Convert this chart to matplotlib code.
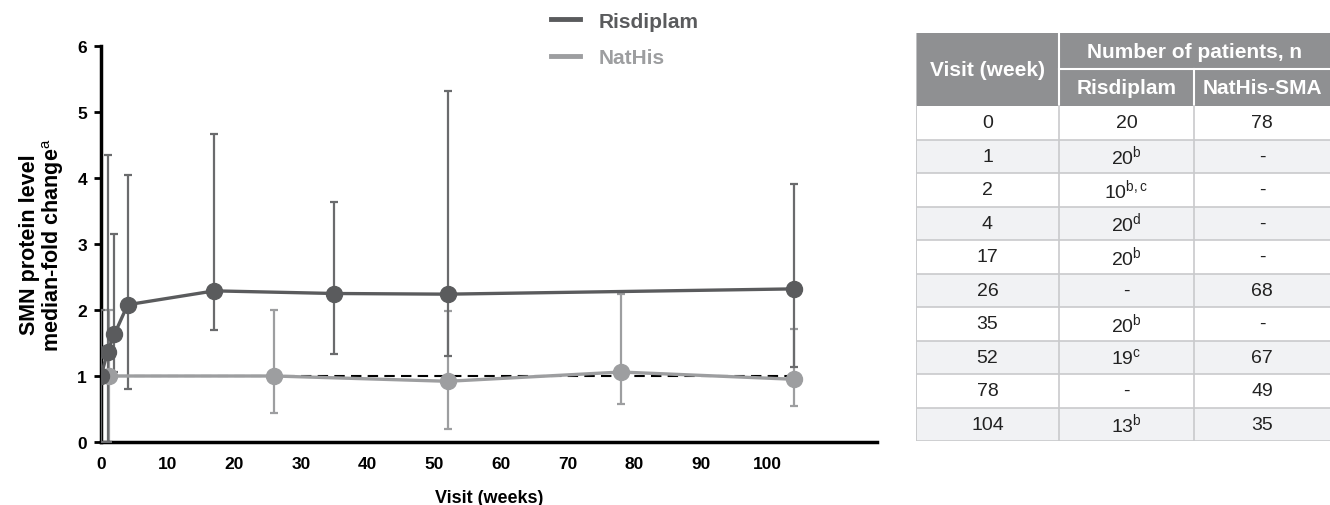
import numpy as np
import matplotlib
matplotlib.use('Agg')
import matplotlib.pyplot as plt
from matplotlib.patches import Rectangle
from matplotlib.lines import Line2D

plt.rcParams['font.family'] = ['Liberation Sans', 'DejaVu Sans']
plt.rcParams['mathtext.fontset'] = 'custom'
plt.rcParams['mathtext.rm'] = 'Liberation Sans'
plt.rcParams['mathtext.bf'] = 'Liberation Sans:bold'

# colors
dark_grey = '#5a5b5d'
light_grey = '#9d9ea0'
header_grey = '#8f9092'
stripe = '#f1f2f4'
grid_grey = '#c9cacc'

# Risdiplam: median fold change with range
ris_weeks = [0, 1, 2, 4, 17, 35, 52, 104]
ris_median = [1.0, 1.37, 1.63, 2.08, 2.29, 2.25, 2.24, 2.32]
ris_low = [0.0, 0.0, 1.06, 0.80, 1.70, 1.33, 1.30, 1.13]
ris_high = [2.0, 4.35, 3.15, 4.05, 4.66, 3.64, 5.32, 3.91]

# NatHis (baseline drawn a little to the right of week 0)
nat_weeks = [0, 26, 52, 78, 104]
nat_median = [1.0, 1.0, 0.92, 1.06, 0.95]
nat_low = [0.0, 0.44, 0.20, 0.57, 0.55]
nat_high = [2.0, 2.0, 1.98, 2.24, 1.71]
nat_baseline_shift = 1.2

# table
table_weeks = ['0', '1', '2', '4', '17', '26', '35', '52', '78', '104']
table_ris = ['20', '20$^{\\rm b}$', '10$^{\\rm b,c}$', '20$^{\\rm d}$', '20$^{\\rm b}$', '-',
             '20$^{\\rm b}$', '19$^{\\rm c}$', '-', '13$^{\\rm b}$']
table_nat = ['78', '-', '-', '-', '-', '68', '-', '67', '49', '35']

fig = plt.figure(figsize=(13.3, 5.06), dpi=100)
ax = fig.add_axes([101 / 1330, 1 - 443 / 506, (877 - 101) / 1330, (443 - 47) / 506])

# reference line at 1
ax.plot([0, 104], [1, 1], ls=(0, (5, 3)), color='black', lw=1.5, zorder=1)

nat_x = np.array(nat_weeks, dtype=float)
nat_x[nat_x == 0] += nat_baseline_shift
nat_m = np.array(nat_median)
ax.errorbar(nat_x, nat_m, yerr=[nat_m - np.array(nat_low), np.array(nat_high) - nat_m],
            fmt='none', ecolor=light_grey, elinewidth=1.6, capsize=3, capthick=1.6, zorder=2)
ris_m = np.array(ris_median)
ax.errorbar(ris_weeks, ris_m, yerr=[ris_m - np.array(ris_low), np.array(ris_high) - ris_m],
            fmt='none', ecolor='#6a6b6d', elinewidth=1.6, capsize=3, capthick=1.6, zorder=3)
ax.plot(nat_x, nat_m, '-o', color=light_grey, lw=2.4, ms=11.5, zorder=4)
ax.plot(ris_weeks, ris_m, '-o', color=dark_grey, lw=2.4, ms=11.5, zorder=5)

ax.set_xlim(0, 116.4)
ax.set_ylim(0, 6)
ax.set_xticks(range(0, 101, 10))
ax.set_yticks(range(0, 7))
for s in ['top', 'right']:
    ax.spines[s].set_visible(False)
for s in ['left', 'bottom']:
    ax.spines[s].set_linewidth(2.5)
ax.tick_params(axis='y', length=5, width=2, direction='out', labelsize=12.5, pad=5)
ax.tick_params(axis='x', length=0, labelsize=12.5, pad=10)
for lab in ax.get_xticklabels() + ax.get_yticklabels():
    lab.set_fontweight('bold')
ax.set_xlabel('Visit (weeks)', fontsize=13, fontweight='bold', labelpad=13)
ax.set_ylabel('SMN protein level\nmedian-fold change$^{\\rm a}$', fontsize=15.5,
              fontweight='bold', labelpad=8, linespacing=1.0)

handles = [Line2D([], [], color=dark_grey, lw=3.5), Line2D([], [], color=light_grey, lw=3.5)]
leg = fig.legend(handles, ['Risdiplam', 'NatHis'], loc='upper left',
                 bbox_to_anchor=(538 / 1330, 1.0), frameon=False, handlelength=1.4,
                 labelspacing=0.85, handletextpad=0.9, borderaxespad=0.2,
                 prop={'weight': 'bold', 'size': 15})
for txt, c in zip(leg.get_texts(), [dark_grey, light_grey]):
    txt.set_color(c)

# table drawn in pixel coordinates
tx = fig.add_axes([916 / 1330, 1 - 442 / 506, (1330 - 916) / 1330, (442 - 34) / 506])
tx.set_xlim(916, 1330)
tx.set_ylim(442, 34)
tx.axis('off')
col_edges = [916, 1059, 1194, 1330]
head_top, head_mid, head_bot = 34, 70, 107
row_h = (442 - head_bot) / len(table_weeks)

tx.add_patch(Rectangle((916, head_top), 1330 - 916, head_bot - head_top, color=header_grey, lw=0))
tx.plot([col_edges[1], col_edges[1]], [head_top, head_bot], color='white', lw=1.5)
tx.plot([col_edges[1], 1330], [head_mid, head_mid], color='white', lw=1.5)
tx.plot([col_edges[2], col_edges[2]], [head_mid, head_bot], color='white', lw=1.5)
hkw = dict(color='white', fontweight='bold', fontsize=15, ha='center', va='center')
tx.text((col_edges[0] + col_edges[1]) / 2, (head_top + head_bot) / 2, 'Visit (week)', **hkw)
tx.text((col_edges[1] + col_edges[3]) / 2, (head_top + head_mid) / 2, 'Number of patients, n', **hkw)
tx.text((col_edges[1] + col_edges[2]) / 2, (head_mid + head_bot) / 2, 'Risdiplam', **hkw)
tx.text((col_edges[2] + col_edges[3]) / 2, (head_mid + head_bot) / 2, 'NatHis-SMA', **hkw)

for i, (w, r, n) in enumerate(zip(table_weeks, table_ris, table_nat)):
    y0 = head_bot + i * row_h
    tx.add_patch(Rectangle((916, y0), 1330 - 916, row_h,
                           color=(stripe if i % 2 else 'white'), lw=0))
    tx.plot([916, 1330], [y0 + row_h, y0 + row_h], color=grid_grey, lw=1.2)
    yc = y0 + row_h / 2
    for j, val in enumerate([w, r, n]):
        tx.text((col_edges[j] + col_edges[j + 1]) / 2, yc, val, fontsize=14,
                ha='center', va='center', color='#222222')
for xe in col_edges[:3]:
    tx.plot([xe, xe], [head_bot, 442], color=grid_grey, lw=1.2)
tx.plot([916, 916], [head_top, 442], color=grid_grey, lw=1.2)

fig.savefig('out.png', dpi=100)
